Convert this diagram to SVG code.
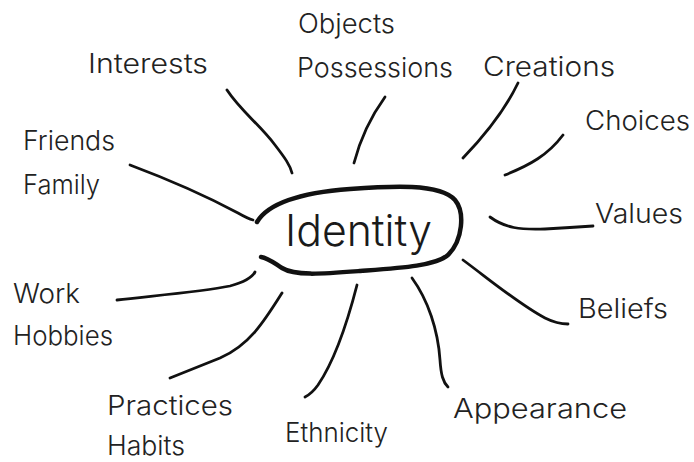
<svg xmlns="http://www.w3.org/2000/svg" width="694" height="462" viewBox="0 0 694 462">
<style>
.lbl{font-family:"Inter","Liberation Sans","DejaVu Sans",sans-serif;font-weight:300;font-size:27px;fill:#222;}
.hub{font-family:"Inter","Liberation Sans","DejaVu Sans",sans-serif;font-weight:300;font-size:44px;fill:#1a1a1a;}
.ln{fill:none;stroke:#111;stroke-width:2.8;stroke-linecap:round;stroke-linejoin:round;}
.ring{fill:none;stroke:#111;stroke-width:4.5;stroke-linecap:round;stroke-linejoin:round;}
</style>
<rect width="694" height="462" fill="#fff"/>
<g id="connectors">
<path class="ln" d="M227,90 C240,110 260,125 275,145 C285,158 290,165 292,173"/>
<path class="ln" d="M130,165 C170,180 210,198 238,213 C245,217 249,219 253,220"/>
<path class="ln" d="M385,97 C372,115 360,140 354,163"/>
<path class="ln" d="M518,83 C505,110 485,135 463,158"/>
<path class="ln" d="M563,135 C548,155 530,165 505,175"/>
<path class="ln" d="M490,217 C505,228 520,230 545,229 C565,228 580,227 593,226"/>
<path class="ln" d="M463,260 C490,280 520,305 545,318 C555,323 562,324 568,324"/>
<path class="ln" d="M412,278 C428,300 438,330 440,360 C441,375 443,382 448,387"/>
<path class="ln" d="M357,285 C348,320 335,360 318,385 C313,392 309,395 305,397"/>
<path class="ln" d="M282,293 C265,320 250,345 220,358 C200,366 185,372 170,378"/>
<path class="ln" d="M117,300 C150,296 200,292 230,286 C245,282 252,278 255,272"/>
</g>
<g id="identity">
<path class="ring" d="M257,222 C270,200 310,192 350,189 C390,186 440,183 455,200 C465,212 463,240 448,255 C435,266 400,268 360,271 C320,274 295,276 282,268 C274,263 268,258 261,257"/>
<text class="hub" x="285" y="246" textLength="147" lengthAdjust="spacingAndGlyphs">Identity</text>
</g>
<g id="objects"><text class="lbl" x="298" y="33" textLength="97" lengthAdjust="spacingAndGlyphs">Objects</text><text class="lbl" x="297" y="77" textLength="156" lengthAdjust="spacingAndGlyphs">Possessions</text></g>
<g id="interests"><text class="lbl" x="88" y="73" textLength="120" lengthAdjust="spacingAndGlyphs">Interests</text></g>
<g id="creations"><text class="lbl" x="483" y="76" textLength="132" lengthAdjust="spacingAndGlyphs">Creations</text></g>
<g id="choices"><text class="lbl" x="585" y="130" textLength="105" lengthAdjust="spacingAndGlyphs">Choices</text></g>
<g id="friends"><text class="lbl" x="23" y="150" textLength="92" lengthAdjust="spacingAndGlyphs">Friends</text><text class="lbl" x="23" y="194" textLength="77" lengthAdjust="spacingAndGlyphs">Family</text></g>
<g id="values"><text class="lbl" x="595" y="223" textLength="88" lengthAdjust="spacingAndGlyphs">Values</text></g>
<g id="work"><text class="lbl" x="13" y="303" textLength="67" lengthAdjust="spacingAndGlyphs">Work</text><text class="lbl" x="13" y="345" textLength="100" lengthAdjust="spacingAndGlyphs">Hobbies</text></g>
<g id="beliefs"><text class="lbl" x="578" y="318" textLength="90" lengthAdjust="spacingAndGlyphs">Beliefs</text></g>
<g id="practices"><text class="lbl" x="107" y="415" textLength="126" lengthAdjust="spacingAndGlyphs">Practices</text><text class="lbl" x="107" y="455" textLength="78" lengthAdjust="spacingAndGlyphs">Habits</text></g>
<g id="ethnicity"><text class="lbl" x="285" y="442" textLength="103" lengthAdjust="spacingAndGlyphs">Ethnicity</text></g>
<g id="appearance"><text class="lbl" x="453" y="418" textLength="174" lengthAdjust="spacingAndGlyphs">Appearance</text></g>
</svg>
